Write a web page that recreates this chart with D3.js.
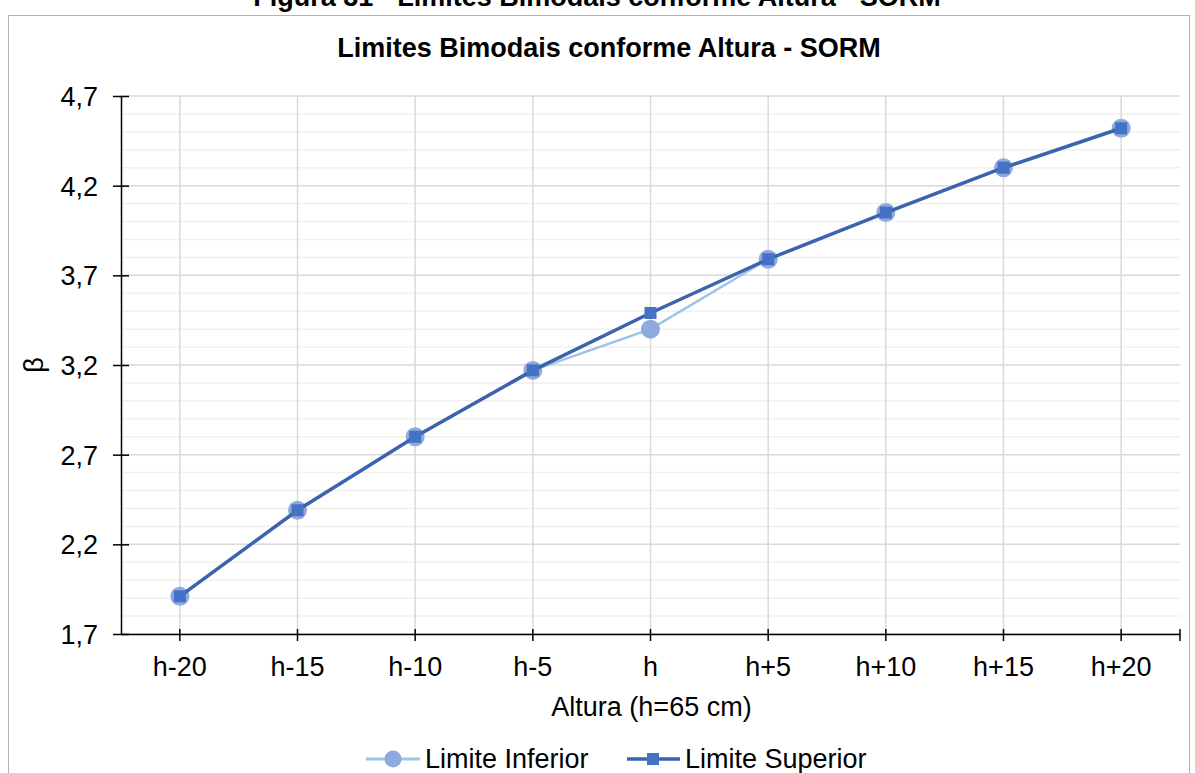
<!DOCTYPE html>
<html>
<head>
<meta charset="utf-8">
<script src="https://cdn.jsdelivr.net/npm/d3@7"></script>
<style>
  body { margin: 0; background: #fff; }
  text { font-family: "Liberation Sans", Arial, sans-serif; fill: #000; }
</style>
</head>
<body>
<div id="chart"></div>
<script>
var svgWidth = 1195;
var svgHeight = 773;

// data
var categories = ["h-20", "h-15", "h-10", "h-5", "h", "h+5", "h+10", "h+15", "h+20"];
var limiteInferior = [1.91, 2.39, 2.80, 3.17, 3.40, 3.79, 4.05, 4.30, 4.52];
var limiteSuperior = [1.91, 2.39, 2.80, 3.17, 3.49, 3.79, 4.05, 4.30, 4.52];
var yTicks = [1.7, 2.2, 2.7, 3.2, 3.7, 4.2, 4.7];

var fontSize = "27px";

// plot area
var margin = { top: 96, right: 15, bottom: 139, left: 121 };
var chartWidth = svgWidth - margin.left - margin.right;
var chartHeight = svgHeight - margin.top - margin.bottom;

var svg = d3.select("#chart")
  .append("svg")
  .attr("width", svgWidth)
  .attr("height", svgHeight);

// chart border
svg.append("rect")
  .attr("x", 8.5).attr("y", 15.5)
  .attr("width", 1181).attr("height", 800)
  .attr("fill", "none")
  .attr("stroke", "#b3b3b3");

// figure caption (cut off at the top in the original)
svg.append("text")
  .attr("x", 597).attr("y", 6)
  .attr("text-anchor", "middle")
  .style("font-size", fontSize)
  .style("font-weight", "bold")
  .text("Figura 31 - Limites Bimodais conforme Altura - SORM");

svg.append("text")
  .attr("x", 609).attr("y", 57)
  .attr("text-anchor", "middle")
  .style("font-size", fontSize)
  .style("font-weight", "bold")
  .text("Limites Bimodais conforme Altura - SORM");

var chartGroup = svg.append("g")
  .attr("transform", `translate(${margin.left}, ${margin.top})`);

var xScale = d3.scaleBand()
  .domain(categories)
  .range([0, chartWidth]);

var yScale = d3.scaleLinear()
  .domain([1.7, 4.7])
  .range([chartHeight, 0]);

var fmt = function(d) { return d3.format(".1f")(d).replace(".", ","); };

// minor gridlines
var minorTicks = d3.range(17, 48).map(function(d) { return d / 10; })
  .filter(function(d) { return yTicks.indexOf(d) < 0; });
chartGroup.append("g").selectAll("line")
  .data(minorTicks)
  .enter()
  .append("line")
  .attr("x1", 0).attr("x2", chartWidth)
  .attr("y1", function(d) { return yScale(d); })
  .attr("y2", function(d) { return yScale(d); })
  .attr("stroke", "#f0f0f0")
  .attr("stroke-width", 1.5);

// major gridlines
chartGroup.append("g").selectAll("line")
  .data(yTicks)
  .enter()
  .append("line")
  .attr("x1", 0).attr("x2", chartWidth)
  .attr("y1", function(d) { return yScale(d); })
  .attr("y2", function(d) { return yScale(d); })
  .attr("stroke", "#d9d9d9")
  .attr("stroke-width", 1.5);

// vertical gridlines
chartGroup.append("g").selectAll("line")
  .data(categories)
  .enter()
  .append("line")
  .attr("x1", function(d) { return xScale(d) + xScale.bandwidth() / 2; })
  .attr("x2", function(d) { return xScale(d) + xScale.bandwidth() / 2; })
  .attr("y1", 0).attr("y2", chartHeight)
  .attr("stroke", "#d9d9d9")
  .attr("stroke-width", 1.5);

// y axis
var leftAxis = d3.axisLeft(yScale)
  .tickValues(yTicks)
  .tickFormat(fmt)
  .tickSizeInner(8)
  .tickSizeOuter(0)
  .tickPadding(15);

var yAxisG = chartGroup.append("g").call(leftAxis);
yAxisG.select(".domain").attr("stroke", "#000").attr("stroke-width", 1.5);
yAxisG.selectAll(".tick line").attr("stroke", "#000").attr("stroke-width", 1.5).attr("x2", 8).attr("x1", -8);
yAxisG.selectAll(".tick text")
  .style("font-size", fontSize)
  .attr("font-family", null)
  .attr("dy", "0.35em");

// x axis
var bottomAxis = d3.axisBottom(xScale)
  .tickSizeInner(0)
  .tickSizeOuter(0);

var xAxisG = chartGroup.append("g")
  .attr("transform", `translate(0, ${chartHeight})`)
  .call(bottomAxis);
xAxisG.select(".domain").attr("stroke", "#000").attr("stroke-width", 1.5);
xAxisG.selectAll(".tick text")
  .style("font-size", fontSize)
  .attr("font-family", null)
  .attr("y", 42)
  .attr("dy", null);

// x tick marks at category centers and at the right end
var xTickPos = categories.map(function(d) { return xScale(d) + xScale.bandwidth() / 2; });
xTickPos.push(chartWidth);
xAxisG.append("g").selectAll("line")
  .data(xTickPos)
  .enter()
  .append("line")
  .attr("x1", function(d) { return d; })
  .attr("x2", function(d) { return d; })
  .attr("y1", -5).attr("y2", 7)
  .attr("stroke", "#000")
  .attr("stroke-width", 1.5);

// axis titles
chartGroup.append("text")
  .attr("x", chartWidth / 2 + 1)
  .attr("y", chartHeight + 82)
  .attr("text-anchor", "middle")
  .style("font-size", fontSize)
  .text("Altura (h=65 cm)");

chartGroup.append("text")
  .attr("transform", "rotate(-90)")
  .attr("x", -yScale(3.2))
  .attr("y", -78)
  .attr("text-anchor", "middle")
  .style("font-size", fontSize)
  .text("β");

// lines
var cx = function(d, i) { return xScale(categories[i]) + xScale.bandwidth() / 2; };

var line = d3.line()
  .x(cx)
  .y(function(d) { return yScale(d); });

chartGroup.append("path")
  .datum(limiteInferior)
  .attr("d", line)
  .attr("fill", "none")
  .attr("stroke", "#9dc3e6")
  .attr("stroke-width", 2.5);

chartGroup.selectAll(".inf")
  .data(limiteInferior)
  .enter()
  .append("circle")
  .attr("class", "inf")
  .attr("cx", cx)
  .attr("cy", function(d) { return yScale(d); })
  .attr("r", 9.5)
  .attr("fill", "#8faadc");

chartGroup.append("path")
  .datum(limiteSuperior)
  .attr("d", line)
  .attr("fill", "none")
  .attr("stroke", "#3b63ae")
  .attr("stroke-width", 3.5);

chartGroup.selectAll(".sup")
  .data(limiteSuperior)
  .enter()
  .append("rect")
  .attr("class", "sup")
  .attr("x", function(d, i) { return cx(d, i) - 6; })
  .attr("y", function(d) { return yScale(d) - 6; })
  .attr("width", 12)
  .attr("height", 12)
  .attr("fill", "#4472c4");

// legend
var legend = svg.append("g").attr("transform", "translate(0, 759)");

legend.append("line")
  .attr("x1", 366).attr("x2", 420).attr("y1", 0).attr("y2", 0)
  .attr("stroke", "#9dc3e6").attr("stroke-width", 3);
legend.append("circle")
  .attr("cx", 393).attr("cy", 0).attr("r", 8.5)
  .attr("fill", "#8faadc");
legend.append("text")
  .attr("x", 425).attr("y", 0).attr("dy", "0.35em")
  .style("font-size", fontSize)
  .text("Limite Inferior");

legend.append("line")
  .attr("x1", 627).attr("x2", 680).attr("y1", 0).attr("y2", 0)
  .attr("stroke", "#3b63ae").attr("stroke-width", 3.5);
legend.append("rect")
  .attr("x", 647).attr("y", -6).attr("width", 12).attr("height", 12)
  .attr("fill", "#4472c4");
legend.append("text")
  .attr("x", 685).attr("y", 0).attr("dy", "0.35em")
  .style("font-size", fontSize)
  .text("Limite Superior");
</script>
</body>
</html>
